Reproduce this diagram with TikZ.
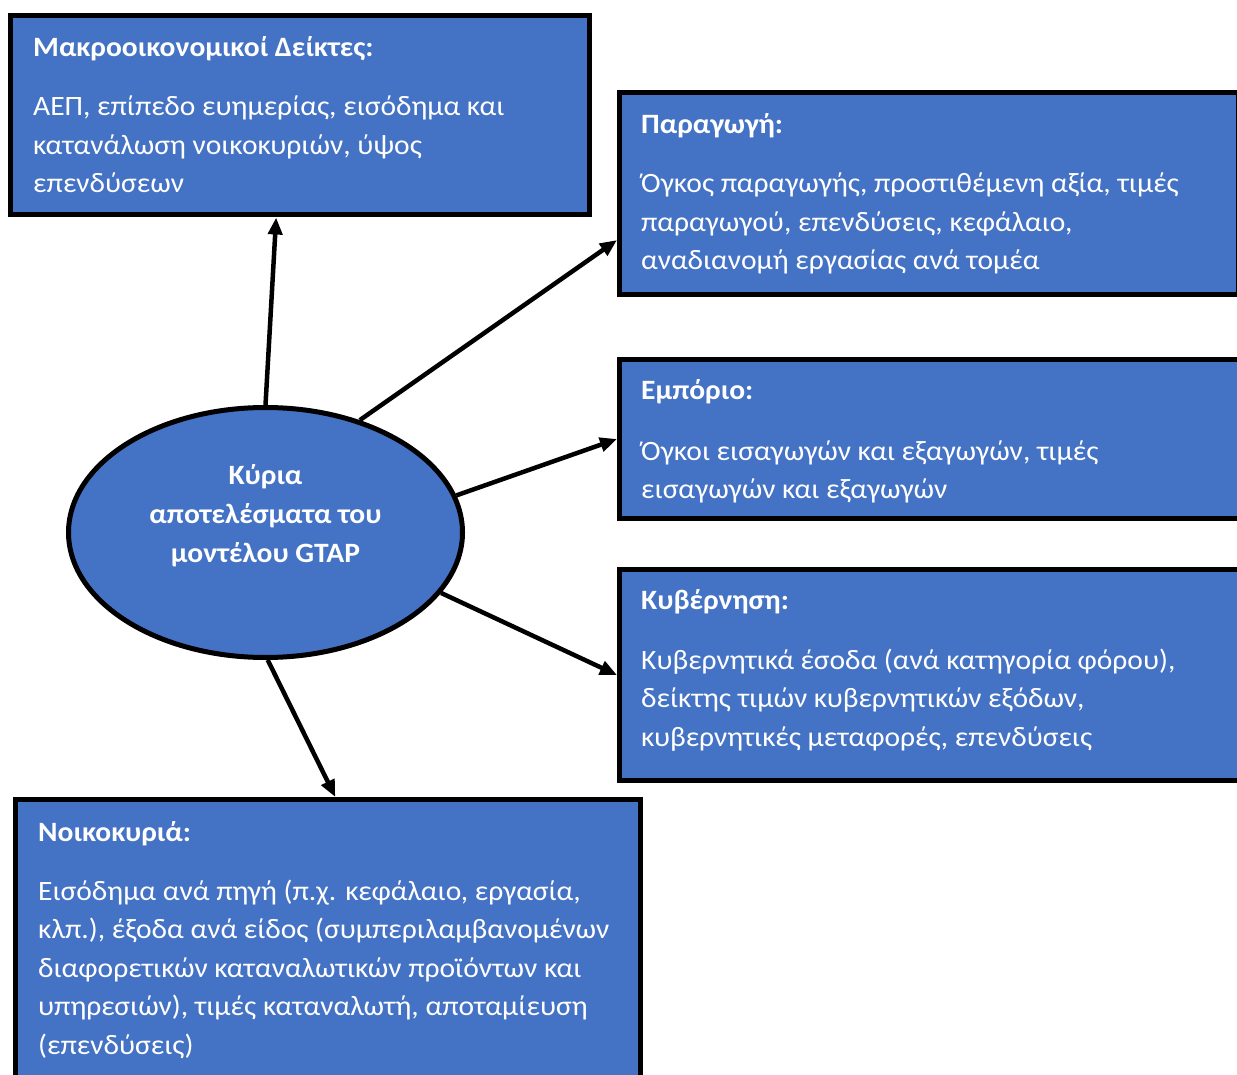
\documentclass[tikz,border=0pt]{standalone}
\usepackage{fontspec}
\setmainfont{Carlito}[FakeStretch=1.055]
\usetikzlibrary{arrows.meta,calc,shapes.geometric}
\definecolor{boxblue}{HTML}{4472C4}
% left-aligned and centred stacks of lines, baseline at the first line
\newcommand\leftlines[1]{\vtop{\baselineskip=38.5pt\lineskiplimit=-20pt\lineskip=0pt\halign{##\hfil\cr#1\crcr}}}
\newcommand\midlines[1]{\vtop{\baselineskip=39pt\lineskiplimit=-20pt\lineskip=0pt\halign{\hfil##\hfil\cr#1\crcr}}}

\begin{document}
\begin{tikzpicture}[x=1pt,y=-1pt,
  panel/.style={draw=black,line width=5pt,fill=boxblue,rectangle,anchor=north west,inner sep=0pt},
  head/.style={anchor=base west,inner sep=0pt,text=white,font=\fontsize{28}{38.5}\selectfont\bfseries},
  body/.style={anchor=base west,inner sep=0pt,text=white,font=\fontsize{28}{38.5}\selectfont},
  hub/.style={draw=black,line width=5pt,fill=boxblue,ellipse,inner sep=0pt},
  hubtext/.style={anchor=base,inner sep=0pt,text=white,font=\fontsize{28}{39}\selectfont\bfseries},
  link/.style={line width=4.5pt,-{Triangle[length=17pt,width=14pt]}}]
\useasboundingbox (0,0) rectangle (1237,1075);

% panels
\node[panel,minimum width=579pt,minimum height=199pt] (mac) at (7.5,13.5) {};
\node[panel,minimum width=618.5pt,minimum height=202pt] (prod) at (617,90) {};
\node[panel,minimum width=628pt,minimum height=159pt] (trade) at (617,357) {};
\node[panel,minimum width=628pt,minimum height=211pt] (gov) at (617,567) {};
\node[panel,minimum width=624.5pt,minimum height=288pt] (house) at (13,797) {};

% central ellipse
\node[hub,minimum width=394pt,minimum height=250pt] (ell) at (265.5,532.5) {};
\node[hubtext] (ell-t) at (265.5,484) {\midlines{Κύρια\cr αποτελέσματα του\cr μοντέλου GTAP}};

% panel texts
\node[head] (mac-h) at (33,57) {Μακροοικονομικοί Δείκτες:};
\node[body] (mac-b) at (33,116) {\leftlines{ΑΕΠ, επίπεδο ευημερίας, εισόδημα και\cr κατανάλωση νοικοκυριών, ύψος\cr επενδύσεων}};

\node[head] (prod-h) at (641,134) {Παραγωγή:};
\node[body] (prod-b) at (641,193) {\leftlines{Όγκος παραγωγής, προστιθέμενη αξία, τιμές\cr παραγωγού, επενδύσεις, κεφάλαιο,\cr αναδιανομή εργασίας ανά τομέα}};

\node[head] (trade-h) at (641,399) {Εμπόριο:};
\node[body] (trade-b) at (641,460) {\leftlines{Όγκοι εισαγωγών και εξαγωγών, τιμές\cr εισαγωγών και εξαγωγών}};

\node[head] (gov-h) at (641,609) {Κυβέρνηση:};
\node[body] (gov-b) at (641,669) {\leftlines{Κυβερνητικά έσοδα (ανά κατηγορία φόρου),\cr δείκτης τιμών κυβερνητικών εξόδων,\cr κυβερνητικές μεταφορές, επενδύσεις}};

\node[head] (house-h) at (38,841) {Νοικοκυριά:};
\node[body] (house-b) at (38,900) {\leftlines{Εισόδημα ανά πηγή (π.χ. κεφάλαιο, εργασία,\cr κλπ.), έξοδα ανά είδος (συμπεριλαμβανομένων\cr διαφορετικών καταναλωτικών προϊόντων και\cr υπηρεσιών), τιμές καταναλωτή, αποταμίευση\cr (επενδύσεις)}};

% connectors
\draw[link] (ell.north) -- ($(mac.south west)!0.46!(mac.south east)$);
\draw[link] (ell.50) -- ($(prod.north west)!0.725!(prod.south west)$);
\draw[link] (ell.11) -- (trade.west);
\draw[link] (ell.-19) -- (gov.west);
\draw[link] (ell.-89) -- ($(house.north west)!0.512!(house.north east)$);
\end{tikzpicture}
\end{document}
